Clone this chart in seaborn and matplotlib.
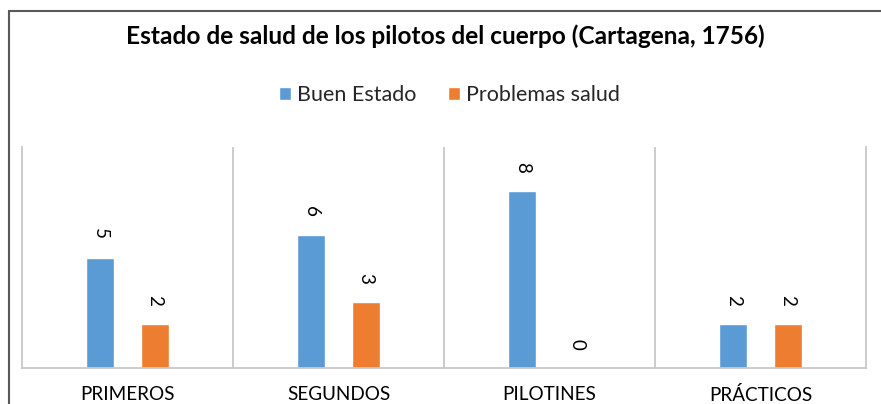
import matplotlib
matplotlib.use("Agg")
import matplotlib.pyplot as plt
import seaborn as sns
import pandas as pd
from matplotlib.patches import Rectangle, Patch

categories = ["PRIMEROS", "SEGUNDOS", "PILOTINES", "PRÁCTICOS"]
buen_estado = [5, 6, 8, 2]
problemas_salud = [2, 3, 0, 2]
series_names = ["Buen Estado", "Problemas salud"]
title = "Estado de salud de los pilotos del cuerpo (Cartagena, 1756)"

colors = ["#5B9BD5", "#ED7D31"]

df = pd.DataFrame({
    "cat": categories * 2,
    "val": buen_estado + problemas_salud,
    "serie": [series_names[0]] * 4 + [series_names[1]] * 4,
})

sns.set_style("white")
plt.rcParams["font.family"] = ["Lato", "DejaVu Sans"]

W, H = 881, 404
fig = plt.figure(figsize=(W / 100, H / 100), dpi=100)
ax = fig.add_axes([22 / W, 1 - 368 / H, (866 - 22) / W, (368 - 147) / H])

sns.barplot(data=df, x="cat", y="val", hue="serie", palette=colors,
            width=0.516, gap=0.485, ax=ax, legend=False, saturation=1)

ax.set_xlim(-0.5, 3.5)
ax.set_ylim(0, 10)
ax.set_xlabel("")
ax.set_ylabel("")
ax.set_yticks([])
ax.tick_params(axis="x", length=0, pad=13, labelsize=13.6, labelcolor="#000000")
ax.set_xticks(range(4))
ax.set_xticklabels(categories)

for x in [0.5, 1.5, 2.5]:
    ax.axvline(x, color="#C8C8C8", lw=1.3, zorder=0)
for s in ["left", "right", "bottom"]:
    ax.spines[s].set_color("#C8C8C8")
    ax.spines[s].set_linewidth(1.3)
ax.spines["top"].set_visible(False)

for cont in ax.containers:
    ax.bar_label(cont, rotation=-90, padding=13, fontsize=13.5, color="#000000")

fig.text(445 / W, 1 - 36 / H, title, ha="center", va="center",
         fontsize=17.6, fontweight="bold", color="#000000")

handles = [Patch(facecolor=c) for c in colors]
fig.legend(handles, series_names, loc="center", bbox_to_anchor=(449.5 / W, 1 - 95 / H),
           ncol=2, frameon=False, fontsize=15.5, handlelength=0.55, handleheight=0.55,
           handletextpad=0.3, columnspacing=1.45, borderpad=0, borderaxespad=0)

fig.add_artist(Rectangle((9 / W, -0.1), 1.2, (1 - 11 / H) + 0.1,
                         transform=fig.transFigure, fill=False,
                         edgecolor="#595959", lw=1.5))

fig.savefig("out.png", dpi=100)
